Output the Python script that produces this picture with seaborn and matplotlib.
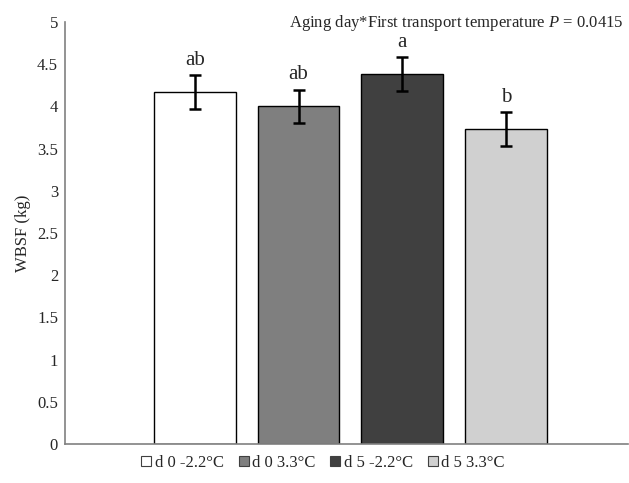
import matplotlib
matplotlib.use("Agg")
import matplotlib.pyplot as plt
import seaborn as sns
import pandas as pd
from matplotlib.patches import Patch

groups = ["d 0 -2.2°C", "d 0 3.3°C", "d 5 -2.2°C", "d 5 3.3°C"]
values = [4.17, 4.00, 4.38, 3.73]
errors = [0.20, 0.20, 0.20, 0.20]
letters = ["ab", "ab", "a", "b"]
colors = ["#ffffff", "#7f7f7f", "#404040", "#d0d0d0"]
yticks = [0, 0.5, 1, 1.5, 2, 2.5, 3, 3.5, 4, 4.5, 5]

sns.set_theme(style="white")
FAM = ['Liberation Serif', 'DejaVu Serif']
plt.rcParams['font.family'] = FAM
plt.rcParams['mathtext.fontset'] = 'custom'
plt.rcParams['mathtext.rm'] = 'Liberation Serif'
plt.rcParams['mathtext.it'] = 'Liberation Serif:italic'

df = pd.DataFrame({"group": groups, "WBSF": values})

fig = plt.figure(figsize=(6.29, 4.83), dpi=100)
ax = fig.add_axes([65/629, 39/483, 563/629, 422/483])

sns.barplot(data=df, x="group", y="WBSF", hue="group", palette=colors,
            order=groups, hue_order=groups, dodge=False, width=0.79,
            edgecolor="black", linewidth=1.0, legend=False, ax=ax)

xs = range(len(groups))
ax.errorbar(list(xs), values, yerr=errors, fmt="none", ecolor="black",
            elinewidth=1.8, capsize=4, capthick=1.8)
for x, v, e, l in zip(xs, values, errors, letters):
    ax.text(x, v + e + 0.06, l, ha="center", va="bottom", fontsize=15, family=FAM)

ax.set_ylim(0, 5)
ax.set_xlim(-1.254, 4.18)
ax.set_yticks(yticks)
ax.set_yticklabels([f"{t:g}" for t in yticks], fontsize=12, family=FAM)
for lbl in ax.get_yticklabels():
    lbl.set_fontfamily(FAM)
ax.set_xticks([])
ax.set_xlabel("")
ax.set_ylabel("WBSF (kg)", fontsize=12, labelpad=4, family=FAM)
ax.tick_params(axis="y", length=0, pad=5)

for s in ["top", "right"]:
    ax.spines[s].set_visible(False)
for s in ["left", "bottom"]:
    ax.spines[s].set_color("#808080")
    ax.spines[s].set_linewidth(1.2)

ax.text(0.992, 0.997, "Aging day*First transport temperature $\\it{P}$ = 0.0415",
        transform=ax.transAxes, ha="right", va="center", fontsize=12, family=FAM)

handles = [Patch(facecolor=c, edgecolor="#404040", linewidth=0.8, label=g)
           for c, g in zip(colors, groups)]
fig.legend(handles=handles, loc="center", bbox_to_anchor=(323/629, 1 - 463/483),
           ncol=4, frameon=False, prop={'family': FAM, 'size': 12},
           handlelength=0.6, handleheight=0.6,
           handletextpad=0.2, columnspacing=0.9)

fig.savefig("out.png", dpi=100)
